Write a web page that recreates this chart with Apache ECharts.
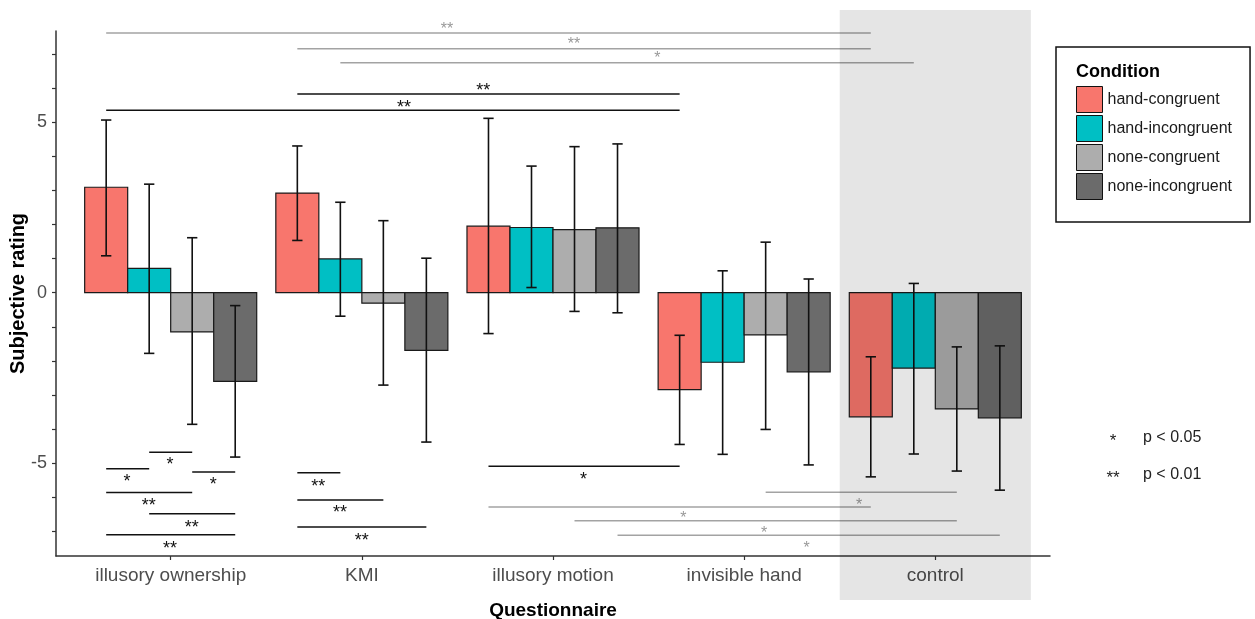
<!DOCTYPE html>
<html>
<head>
<meta charset="utf-8">
<script src="https://cdn.jsdelivr.net/npm/echarts@6/dist/echarts.min.js"></script>
<style>
  html, body { margin: 0; background: #fff; }
  #chart { width: 1255px; height: 619px; }
</style>
</head>
<body>
<div id="chart"></div>
<script>
// questionnaires and conditions
var categories = ['illusory ownership', 'KMI', 'illusory motion', 'invisible hand', 'control'];
var conditions = ['hand-congruent', 'hand-incongruent', 'none-congruent', 'none-incongruent'];

// mean subjective rating per questionnaire
var handCongruent = [3.09, 2.92, 1.95, -2.84, -3.64];
var handIncongruent = [0.71, 0.99, 1.91, -2.04, -2.21];
var noneCongruent = [-1.15, -0.31, 1.85, -1.24, -3.41];
var noneIncongruent = [-2.60, -1.69, 1.90, -2.32, -3.67];

// error bars [low, high]
var handCongruentErr = [[1.08, 5.06], [1.53, 4.30], [-1.20, 5.11], [-4.45, -1.25], [-5.40, -1.88]];
var handIncongruentErr = [[-1.78, 3.18], [-0.69, 2.65], [0.15, 3.71], [-4.74, 0.64], [-4.73, 0.27]];
var noneCongruentErr = [[-3.86, 1.61], [-2.71, 2.11], [-0.55, 4.28], [-4.01, 1.48], [-5.23, -1.59]];
var noneIncongruentErr = [[-4.82, -0.38], [-4.38, 1.01], [-0.59, 4.36], [-5.05, 0.40], [-5.79, -1.56]];

// y axis ticks / labels
var yTicks = [-7, -6, -5, -4, -3, -2, -1, 0, 1, 2, 3, 4, 5, 6, 7];
var yLabels = [-5, 0, 5];

// significance brackets: [fromGroup, fromCond, toGroup, toCond, y, label, labelX, labelY]
var sigWithin = [
  [0, 0, 3, 0, 5.35, '**', 2.22, 5.53],
  [1, 0, 3, 0, 5.82, '**', 2.635, 6.03],
  [0, 0, 0, 1, -5.16, '*', 0.771, -5.43],
  [0, 1, 0, 2, -4.68, '*', 0.996, -4.95],
  [0, 2, 0, 3, -5.26, '*', 1.223, -5.52],
  [0, 0, 0, 2, -5.86, '**', 0.885, -6.14],
  [0, 1, 0, 3, -6.48, '**', 1.11, -6.77],
  [0, 0, 0, 3, -7.10, '**', 0.996, -7.40],
  [1, 0, 1, 1, -5.28, '**', 1.772, -5.57],
  [1, 0, 1, 2, -6.08, '**', 1.886, -6.35],
  [1, 0, 1, 3, -6.87, '**', 2.0, -7.17],
  [2, 0, 3, 0, -5.09, '*', 3.159, -5.37]
];
var sigControl = [
  [0, 0, 4, 0, 7.61, '**', 2.446, 7.82],
  [1, 0, 4, 0, 7.15, '**', 3.11, 7.38],
  [1, 1, 4, 1, 6.74, '*', 3.546, 6.96],
  [3, 2, 4, 2, -5.85, '*', 4.602, -6.13],
  [2, 0, 4, 0, -6.28, '*', 3.682, -6.52],
  [2, 2, 4, 2, -6.69, '*', 4.105, -6.96],
  [2, 3, 4, 3, -7.11, '*', 4.327, -7.40]
];

var colors = ['#F8766D', '#00BFC4', '#ADADAD', '#6B6B6B'];
var offsets = [-0.3375, -0.1125, 0.1125, 0.3375];
var barW = 0.225;
var font = 'Liberation Sans, Arial, Helvetica, sans-serif';

var chart = echarts.init(document.getElementById('chart'));

function barSeries(ci, values) {
  return {
    name: conditions[ci],
    type: 'custom',
    z: 3,
    itemStyle: { color: colors[ci], borderColor: '#000', borderWidth: 1 },
    data: values.map(function (v, gi) { return [gi + 1 + offsets[ci], v]; }),
    renderItem: function (params, api) {
      var x = api.value(0), v = api.value(1);
      var p0 = api.coord([x - barW / 2, v]);
      var p1 = api.coord([x + barW / 2, 0]);
      return {
        type: 'rect',
        shape: { x: p0[0], y: Math.min(p0[1], p1[1]), width: p1[0] - p0[0], height: Math.abs(p1[1] - p0[1]) },
        style: { fill: colors[ci], stroke: '#1a1a1a', lineWidth: 1.2 }
      };
    }
  };
}

function errSeries(ci, errs) {
  return {
    type: 'custom',
    z: 4,
    silent: true,
    data: errs.map(function (e, gi) { return [gi + 1 + offsets[ci], e[0], e[1]]; }),
    renderItem: function (params, api) {
      var x = api.value(0);
      var lo = api.coord([x, api.value(1)]);
      var hi = api.coord([x, api.value(2)]);
      var cap = api.coord([x + 0.027, 0])[0] - lo[0];
      var st = { stroke: '#111', lineWidth: 1.6 };
      return {
        type: 'group',
        children: [
          { type: 'line', shape: { x1: lo[0], y1: lo[1], x2: hi[0], y2: hi[1] }, style: st },
          { type: 'line', shape: { x1: lo[0] - cap, y1: lo[1], x2: lo[0] + cap, y2: lo[1] }, style: st },
          { type: 'line', shape: { x1: hi[0] - cap, y1: hi[1], x2: hi[0] + cap, y2: hi[1] }, style: st }
        ]
      };
    }
  };
}

function sigSeries(rows, lineColor, textColor, fontSize) {
  return {
    type: 'custom',
    z: 5,
    silent: true,
    data: rows.map(function (r) {
      return [r[0] + 1 + offsets[r[1]], r[2] + 1 + offsets[r[3]], r[4], r[6], r[7]];
    }),
    renderItem: function (params, api) {
      var a = api.coord([api.value(0), api.value(2)]);
      var b = api.coord([api.value(1), api.value(2)]);
      var t = api.coord([api.value(3), api.value(4)]);
      return {
        type: 'group',
        children: [
          { type: 'line', shape: { x1: a[0], y1: a[1], x2: b[0], y2: b[1] }, style: { stroke: lineColor, lineWidth: 1.5 } },
          {
            type: 'text',
            style: {
              text: rows[params.dataIndex][5], x: t[0], y: t[1] + fontSize * 0.22,
              align: 'center', verticalAlign: 'middle',
              fill: textColor, fontSize: fontSize, fontFamily: font
            }
          }
        ]
      };
    }
  };
}

var series = [
  // shaded control panel, drawn over everything
  {
    type: 'custom',
    z: 20,
    silent: true,
    data: [[4.5, 5.5]],
    renderItem: function (params, api) {
      var cs = params.coordSys;
      var x0 = api.coord([api.value(0), 0])[0];
      var x1 = api.coord([api.value(1), 0])[0];
      return {
        type: 'rect',
        shape: { x: x0, y: cs.y - 21, width: x1 - x0, height: cs.height + 65 },
        style: { fill: 'rgba(0,0,0,0.1)' }
      };
    }
  },
  barSeries(0, handCongruent),
  barSeries(1, handIncongruent),
  barSeries(2, noneCongruent),
  barSeries(3, noneIncongruent),
  errSeries(0, handCongruentErr),
  errSeries(1, handIncongruentErr),
  errSeries(2, noneCongruentErr),
  errSeries(3, noneIncongruentErr),
  sigSeries(sigWithin, '#111', '#111', 18),
  sigSeries(sigControl, '#a3a3a3', '#999', 16)
];

var option = {
  animation: false,
  textStyle: { fontFamily: font },
  grid: { left: 56, right: 205, top: 31, bottom: 63, outerBoundsMode: 'none' },
  xAxis: {
    type: 'value',
    min: 0.4,
    max: 5.6,
    splitLine: { show: false },
    axisLine: { show: true, onZero: false, lineStyle: { color: '#333', width: 1.5 } },
    axisTick: { show: true, customValues: [1, 2, 3, 4, 5], length: 4, lineStyle: { color: '#333', width: 1.2 } },
    axisLabel: {
      customValues: [1, 2, 3, 4, 5],
      formatter: function (v) { return categories[Math.round(v) - 1]; },
      color: '#4d4d4d', fontSize: 19, margin: 10
    },
    name: 'Questionnaire',
    nameLocation: 'middle',
    nameGap: 45,
    nameMoveOverlap: false,
    nameTextStyle: { fontWeight: 'bold', fontSize: 19, color: '#000' }
  },
  yAxis: {
    type: 'value',
    min: -7.72,
    max: 7.67,
    splitLine: { show: false },
    axisLine: { show: true, onZero: false, lineStyle: { color: '#333', width: 1.5 } },
    axisTick: { show: true, customValues: yTicks, length: 4, lineStyle: { color: '#333', width: 1.2 } },
    axisLabel: { customValues: yLabels, color: '#4d4d4d', fontSize: 18, margin: 9 },
    name: 'Subjective rating',
    nameLocation: 'middle',
    nameGap: 28,
    nameMoveOverlap: false,
    nameTextStyle: { fontWeight: 'bold', fontSize: 20, color: '#000' }
  },
  legend: {
    orient: 'vertical',
    left: 1056,
    top: 47,
    padding: [39, 18, 22, 20],
    itemWidth: 26,
    itemHeight: 26,
    itemGap: 2,
    borderColor: '#111',
    borderWidth: 1.5,
    selectedMode: false,
    textStyle: { fontSize: 16, color: '#1a1a1a' },
    data: conditions.map(function (c, i) {
      return { name: c, icon: 'rect', itemStyle: { color: colors[i], borderColor: '#111', borderWidth: 1 } };
    })
  },
  graphic: [
    { type: 'text', left: 1076, top: 63, z: 100, style: { text: 'Condition', fontSize: 18, fontWeight: 'bold', fill: '#000', fontFamily: font } },
    { type: 'text', x: 1113, y: 441, style: { text: '*', fontSize: 17, fill: '#222', align: 'center', verticalAlign: 'middle', fontFamily: font } },
    { type: 'text', x: 1143, y: 438, style: { text: 'p < 0.05', fontSize: 16, fill: '#222', verticalAlign: 'middle', fontFamily: font } },
    { type: 'text', x: 1113, y: 478, style: { text: '**', fontSize: 17, fill: '#222', align: 'center', verticalAlign: 'middle', fontFamily: font } },
    { type: 'text', x: 1143, y: 475, style: { text: 'p < 0.01', fontSize: 16, fill: '#222', verticalAlign: 'middle', fontFamily: font } }
  ],
  series: series
};

chart.setOption(option);
</script>
</body>
</html>
